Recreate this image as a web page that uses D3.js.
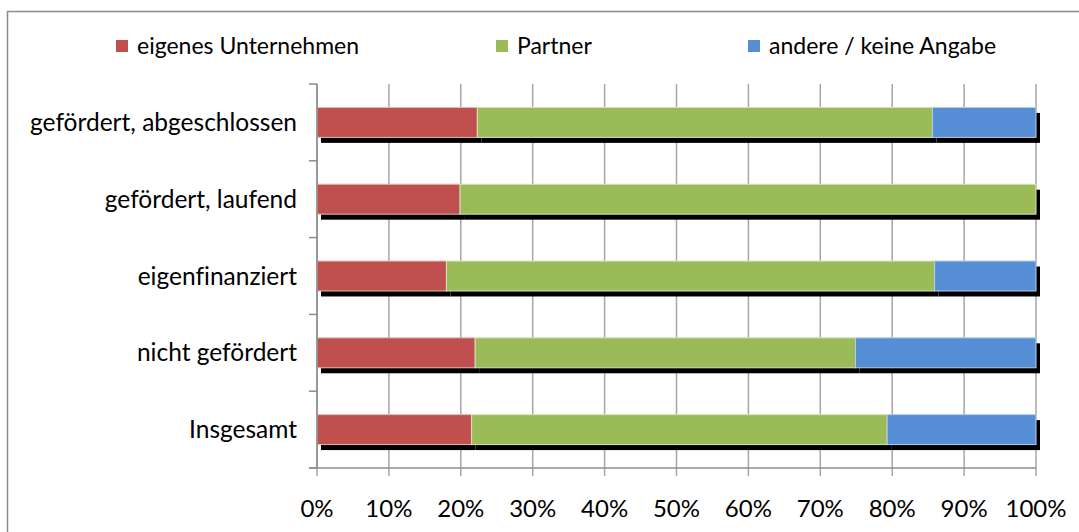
<!DOCTYPE html>
<html>
<head>
<meta charset="utf-8">
<script src="https://cdn.jsdelivr.net/npm/d3@7"></script>
<style>
  body { margin: 0; background: #fff; }
  svg { display: block; font-family: Lato, "Open Sans", sans-serif; font-variant-ligatures: none; }
</style>
</head>
<body>
<div id="chart"></div>
<script>
// data (percent)
var categories = ["gefördert, abgeschlossen", "gefördert, laufend", "eigenfinanziert", "nicht gefördert", "Insgesamt"];
var seriesNames = ["eigenes Unternehmen", "Partner", "andere / keine Angabe"];
var eigenes = [22.3, 19.9, 18.0, 22.0, 21.5];
var partner = [63.3, 80.1, 67.9, 52.9, 57.8];
var andere = [14.4, 0, 14.1, 25.1, 20.7];
var xTicks = [0, 10, 20, 30, 40, 50, 60, 70, 80, 90, 100];

var colors = ["#C0504D", "#9BBB59", "#558ED5"];
var edge = ["#E6B9B8", "#D7E4BD", "#B9CDE5"];

var width = 1079, height = 532;
var plot = { left: 317, right: 1036, top: 84, bottom: 468 };

var svg = d3.select("#chart")
    .append("svg")
    .attr("width", width)
    .attr("height", height);

// outer frame (runs off the right and bottom edge)
svg.append("rect")
    .attr("x", 7.5).attr("y", 11.5)
    .attr("width", 1100).attr("height", 560)
    .attr("fill", "none")
    .attr("stroke", "#8c8c8c")
    .attr("stroke-width", 1.5);

var x = d3.scaleLinear()
    .domain([0, 100])
    .range([plot.left, plot.right]);

var y = d3.scaleBand()
    .domain(categories)
    .range([plot.top, plot.bottom])
    .paddingInner(0.61)
    .paddingOuter(0.305);

// vertical grid
svg.append("g")
    .selectAll("line")
    .data(xTicks)
    .enter()
    .append("line")
    .attr("x1", d => x(d)).attr("x2", d => x(d))
    .attr("y1", plot.top).attr("y2", plot.bottom + 8)
    .attr("stroke", "#a6a6a6")
    .attr("stroke-width", 1.5);

// stack
var rows = categories.map(function (c, i) {
    return { cat: c, a: eigenes[i], b: partner[i], c: andere[i] };
});
var stack = d3.stack().keys(["a", "b", "c"]);
var layers = stack(rows);

// shadows
var shadow = svg.append("g");
layers.forEach(function (layer) {
    shadow.selectAll(null)
        .data(layer.filter(d => d[1] > d[0]))
        .enter()
        .append("rect")
        .attr("x", d => x(d[0]) + 4)
        .attr("y", d => y(d.data.cat) + 5.5)
        .attr("width", d => x(d[1]) - x(d[0]))
        .attr("height", y.bandwidth())
        .attr("fill", "#000");
});

// bars
layers.forEach(function (layer, k) {
    svg.append("g")
        .selectAll("rect")
        .data(layer.filter(d => d[1] > d[0]))
        .enter()
        .append("rect")
        .attr("x", d => x(d[0]))
        .attr("y", d => y(d.data.cat))
        .attr("width", d => x(d[1]) - x(d[0]))
        .attr("height", y.bandwidth())
        .attr("fill", colors[k])
        .attr("stroke", edge[k])
        .attr("stroke-width", 1);
});

// y axis line + category ticks
var step = y.step();
var bounds = d3.range(categories.length + 1).map(i => plot.top + i * step);
svg.append("line")
    .attr("x1", plot.left).attr("x2", plot.left)
    .attr("y1", plot.top).attr("y2", plot.bottom)
    .attr("stroke", "#8c8c8c").attr("stroke-width", 1.5);
svg.append("g")
    .selectAll("line")
    .data(bounds)
    .enter()
    .append("line")
    .attr("x1", plot.left - 8).attr("x2", plot.left)
    .attr("y1", d => d).attr("y2", d => d)
    .attr("stroke", "#8c8c8c").attr("stroke-width", 1.5);

// x axis line
svg.append("line")
    .attr("x1", plot.left - 8).attr("x2", plot.right)
    .attr("y1", plot.bottom).attr("y2", plot.bottom)
    .attr("stroke", "#8c8c8c").attr("stroke-width", 1.5);

// x tick labels
svg.append("g")
    .selectAll("text")
    .data(xTicks)
    .enter()
    .append("text")
    .attr("x", d => x(d))
    .attr("y", 517)
    .attr("text-anchor", "middle")
    .attr("font-size", 24)
    .attr("fill", "#000")
    .text(d => d + "%");

// category labels
svg.append("g")
    .selectAll("text")
    .data(categories)
    .enter()
    .append("text")
    .attr("x", 297)
    .attr("y", d => y(d) + y.bandwidth() / 2)
    .attr("dy", "0.35em")
    .attr("text-anchor", "end")
    .attr("font-size", 24.5)
    .attr("fill", "#000")
    .text(d => d);

// legend
var legendX = [116, 496, 748];
var legend = svg.append("g")
    .selectAll("g")
    .data(seriesNames)
    .enter()
    .append("g")
    .attr("transform", (d, i) => "translate(" + legendX[i] + ",40)");
legend.append("rect")
    .attr("width", 12).attr("height", 12)
    .attr("fill", (d, i) => colors[i]);
legend.append("text")
    .attr("x", 21)
    .attr("y", 6)
    .attr("dy", "0.35em")
    .attr("font-size", 23)
    .attr("fill", "#000")
    .text(d => d);
</script>
</body>
</html>
